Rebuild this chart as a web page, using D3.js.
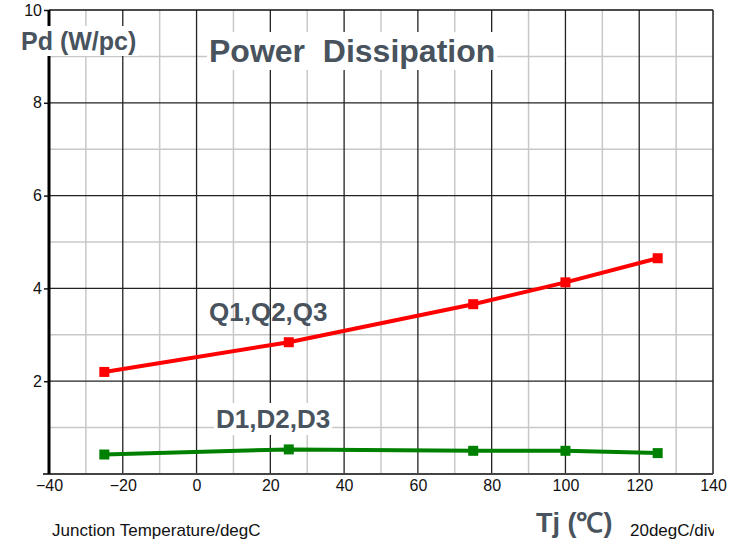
<!DOCTYPE html>
<html><head><meta charset="utf-8">
<script src="https://cdn.jsdelivr.net/npm/d3@7"></script>
<style>body{margin:0;background:#fff}svg{display:block}text{font-family:"Liberation Sans",Arial,sans-serif;white-space:pre}</style>
</head><body>
<script>
const temps = [-25, 25, 75, 100, 125];
const qValues = [2.2, 2.84, 3.66, 4.13, 4.65];
const dValues = [0.42, 0.53, 0.50, 0.50, 0.45];
const xTicks = [-40, -20, 0, 20, 40, 60, 80, 100, 120, 140];
const yTicks = [2, 4, 6, 8, 10];

const W = 735, H = 540;
const svg = d3.select("body").append("svg").attr("width", W).attr("height", H);
const x = d3.scaleLinear().domain([-40, 140]).range([49, 713]);
const y = d3.scaleLinear().domain([0, 10]).range([474, 10]);
const slate = "#48535e";
const FF = '"Liberation Sans",Arial,sans-serif';

svg.append("defs").append("clipPath").attr("id", "rclip")
  .append("rect").attr("x", 0).attr("y", 0).attr("width", x(140) + 1).attr("height", H);

// minor grid
const g = svg.append("g");
g.selectAll(".vm").data(d3.range(-30, 140, 20)).enter().append("line")
  .attr("x1", d => x(d)).attr("x2", d => x(d)).attr("y1", y(10)).attr("y2", y(0))
  .attr("stroke", "#c8c8c8").attr("stroke-width", 1.5);
g.selectAll(".hm").data(d3.range(1, 10, 2)).enter().append("line")
  .attr("x1", x(-40)).attr("x2", x(140)).attr("y1", d => y(d)).attr("y2", d => y(d))
  .attr("stroke", "#c8c8c8").attr("stroke-width", 1.5);
// major grid
g.selectAll(".vM").data(d3.range(-20, 140, 20)).enter().append("line")
  .attr("x1", d => x(d)).attr("x2", d => x(d)).attr("y1", y(10)).attr("y2", y(0))
  .attr("stroke", "#222").attr("stroke-width", 1.3);
g.selectAll(".hM").data([2, 4, 6, 8]).enter().append("line")
  .attr("x1", x(-40)).attr("x2", x(140)).attr("y1", d => y(d)).attr("y2", d => y(d))
  .attr("stroke", "#222").attr("stroke-width", 1.3);
// border
g.append("line").attr("x1", x(-40)).attr("x2", x(140)).attr("y1", y(10)).attr("y2", y(10)).attr("stroke", "#111").attr("stroke-width", 1.5);
g.append("line").attr("x1", x(140)).attr("x2", x(140)).attr("y1", y(10)).attr("y2", y(0)).attr("stroke", "#222").attr("stroke-width", 1.5);

// axes
const xAxis = d3.axisBottom(x).tickValues(xTicks).tickSize(0).tickPadding(6);
const xa = svg.append("g").attr("transform", `translate(0,${y(0)})`).call(xAxis);
xa.select(".domain").remove();
xa.selectAll("text").attr("font-size", 16).attr("fill", "#111").attr("font-family", FF);
svg.append("line").attr("x1", 43).attr("x2", x(140)).attr("y1", y(0)).attr("y2", y(0)).attr("stroke", "#444").attr("stroke-width", 2);

const yAxis = d3.axisLeft(y).tickValues(yTicks).tickSize(5).tickPadding(2);
const ya = svg.append("g").attr("transform", `translate(${x(-40)},0)`).call(yAxis);
ya.select(".domain").remove();
ya.selectAll("line").attr("stroke", "#111").attr("stroke-width", 1.5);
ya.selectAll("text").attr("font-size", 16).attr("fill", "#111").attr("font-family", FF);
svg.append("line").attr("x1", x(-40)).attr("x2", x(-40)).attr("y1", y(10)).attr("y2", y(0)).attr("stroke", "#000").attr("stroke-width", 3);

// series
const line = d3.line().x((d, i) => x(temps[i])).y(d => y(d));
function series(vals, color, size) {
  svg.append("path").datum(vals).attr("d", line).attr("fill", "none")
    .attr("stroke", color).attr("stroke-width", 4);
  svg.selectAll(null).data(vals).enter().append("rect")
    .attr("x", (d, i) => x(temps[i]) - size / 2).attr("y", d => y(d) - size / 2)
    .attr("width", size).attr("height", size).attr("fill", color);
}
series(qValues, "#ff0000", 10);
series(dValues, "#008000", 10);

// labels with white backgrounds
function label(txt, cx, cy, size, bg) {
  const t = svg.append("text").attr("x", cx).attr("y", cy).attr("font-size", size)
    .attr("font-weight", "bold").attr("fill", slate)
    .attr("dominant-baseline", "central").text(txt);
  if (bg) {
    const b = t.node().getBBox();
    svg.insert("rect", () => t.node()).attr("x", b.x - 2).attr("y", b.y - 1)
      .attr("width", b.width + 4).attr("height", b.height + 2).attr("fill", "#fff");
  }
}
label("Pd (W/pc)", 21, 41, 25, true);
label("Power  Dissipation", 209, 51, 32, true);
label("Q1,Q2,Q3", 209, 312, 26, false);
label("D1,D2,D3", 216, 419, 26, true);
label("Tj (\u2103)", 536, 523, 27, false);

svg.append("text").attr("x", 52).attr("y", 536).attr("font-size", 17).attr("fill", "#111").text("Junction Temperature/degC");
svg.append("text").attr("x", 630).attr("y", 536).attr("font-size", 17).attr("fill", "#111")
  .attr("clip-path", "url(#rclip)").text("20degC/div");
</script>
</body></html>
